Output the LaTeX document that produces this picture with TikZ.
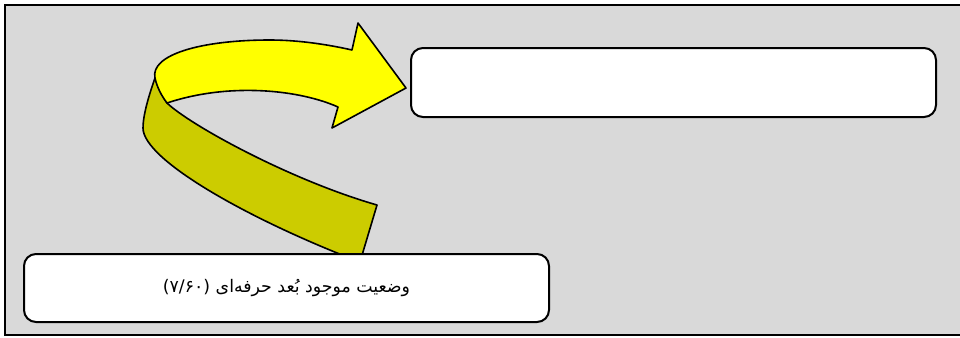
\documentclass[tikz,border=0pt]{standalone}
\usepackage{fontspec}
\TeXXeTstate=1
\newfontfamily\arabicfont[Script=Arabic]{DejaVu Sans}
\definecolor{bggray}{HTML}{D9D9D9}
\definecolor{brightyellow}{HTML}{FFFF00}
\definecolor{darkyellow}{HTML}{CCCC00}
\tikzset{
  box/.style={draw=black, fill=white, line width=1.5pt, rounded corners=9pt,
    inner sep=0pt, outer sep=0pt, anchor=center},
  ribbon/.style={draw=black, line width=1.2pt, line join=round}
}
\begin{document}
\begin{tikzpicture}[x=0.75pt,y=-0.75pt]
  \useasboundingbox (0,0) rectangle (960,337);
  \clip (0,0) rectangle (960,337);
  \fill[white] (0,0) rectangle (960,337);
  \draw[fill=bggray, line width=1.5pt] (5,5) rectangle (980,335);
  % lower (shaded) band of the ribbon
  \draw[ribbon, fill=darkyellow]
    (155,78) .. controls (149,95) and (143,115) .. (143,128)
    .. controls (143,160) and (250,220) .. (360,262)
    -- (377,205)
    .. controls (290,180) and (190,125) .. (167,103)
    .. controls (162,95) and (158,87) .. (155,78) -- cycle;
  % upper (bright) band with arrow head
  \draw[ribbon, fill=brightyellow]
    (155,78) .. controls (150,55) and (200,40) .. (270,40)
    .. controls (300,40) and (330,45) .. (352,50)
    -- (358,23) -- (406,88) -- (332,128) -- (338,107)
    .. controls (300,90) and (230,82) .. (167,103)
    .. controls (161,95) and (157,87) .. (155,78) -- cycle;
  % boxes
  \node[box, minimum width=393.75pt, minimum height=51.75pt] (target) at (673.5,82.5) {};
  \node[box, minimum width=393.75pt, minimum height=51pt] (current) at (286.5,288)
    {\arabicfont\fontsize{13}{15}\selectfont\beginR وضعیت موجود بُعد حرفه‌ای (\beginL ۷/۶۰\endL)\endR};
\end{tikzpicture}
\end{document}
